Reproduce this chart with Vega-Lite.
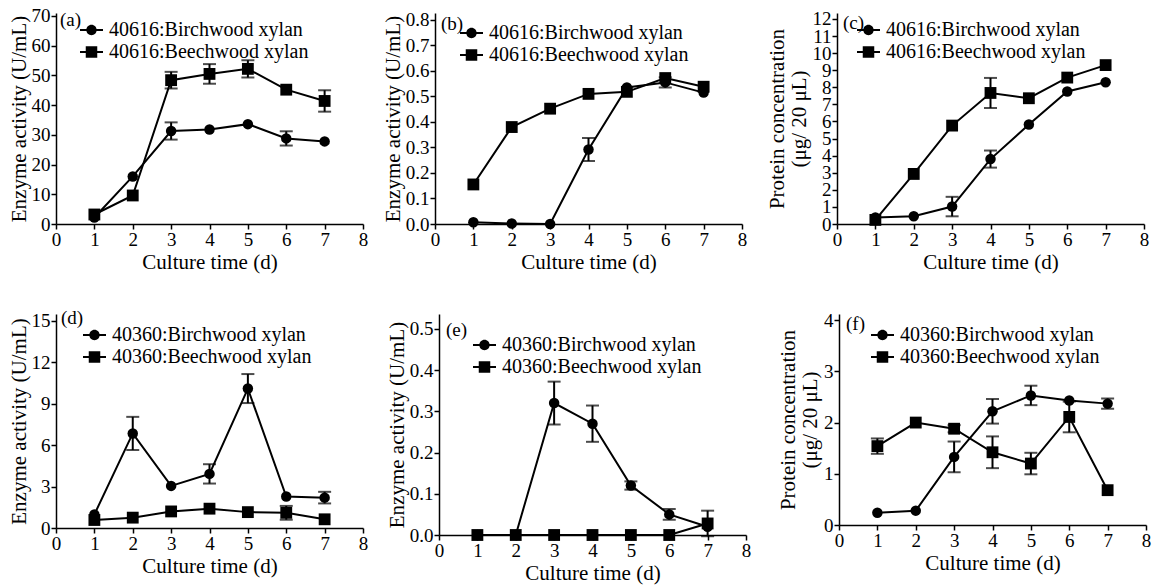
{
 "$schema": "https://vega.github.io/schema/vega-lite/v6.json",
 "padding": {"left": 8, "top": 6, "right": 5, "bottom": 5},
 "background": "white",
 "datasets": {"main": [
  {"panel":"a","kind":"Birchwood","series":"40616:Birchwood xylan","day":1,"value":2.2,"err":0},
  {"panel":"a","kind":"Birchwood","series":"40616:Birchwood xylan","day":2,"value":16.0,"err":0},
  {"panel":"a","kind":"Birchwood","series":"40616:Birchwood xylan","day":3,"value":31.3,"err":2.9},
  {"panel":"a","kind":"Birchwood","series":"40616:Birchwood xylan","day":4,"value":31.8,"err":0},
  {"panel":"a","kind":"Birchwood","series":"40616:Birchwood xylan","day":5,"value":33.6,"err":0},
  {"panel":"a","kind":"Birchwood","series":"40616:Birchwood xylan","day":6,"value":28.8,"err":2.4},
  {"panel":"a","kind":"Birchwood","series":"40616:Birchwood xylan","day":7,"value":27.8,"err":0},
  {"panel":"a","kind":"Beechwood","series":"40616:Beechwood xylan","day":1,"value":3.2,"err":0},
  {"panel":"a","kind":"Beechwood","series":"40616:Beechwood xylan","day":2,"value":9.6,"err":0},
  {"panel":"a","kind":"Beechwood","series":"40616:Beechwood xylan","day":3,"value":48.4,"err":2.8},
  {"panel":"a","kind":"Beechwood","series":"40616:Beechwood xylan","day":4,"value":50.5,"err":3.3},
  {"panel":"a","kind":"Beechwood","series":"40616:Beechwood xylan","day":5,"value":52.2,"err":2.9},
  {"panel":"a","kind":"Beechwood","series":"40616:Beechwood xylan","day":6,"value":45.2,"err":0},
  {"panel":"a","kind":"Beechwood","series":"40616:Beechwood xylan","day":7,"value":41.4,"err":3.6},
  {"panel":"b","kind":"Birchwood","series":"40616:Birchwood xylan","day":1,"value":0.007,"err":0},
  {"panel":"b","kind":"Birchwood","series":"40616:Birchwood xylan","day":2,"value":0.002,"err":0},
  {"panel":"b","kind":"Birchwood","series":"40616:Birchwood xylan","day":3,"value":0.0,"err":0},
  {"panel":"b","kind":"Birchwood","series":"40616:Birchwood xylan","day":4,"value":0.292,"err":0.045},
  {"panel":"b","kind":"Birchwood","series":"40616:Birchwood xylan","day":5,"value":0.535,"err":0},
  {"panel":"b","kind":"Birchwood","series":"40616:Birchwood xylan","day":6,"value":0.555,"err":0.02},
  {"panel":"b","kind":"Birchwood","series":"40616:Birchwood xylan","day":7,"value":0.515,"err":0},
  {"panel":"b","kind":"Beechwood","series":"40616:Beechwood xylan","day":1,"value":0.155,"err":0},
  {"panel":"b","kind":"Beechwood","series":"40616:Beechwood xylan","day":2,"value":0.38,"err":0},
  {"panel":"b","kind":"Beechwood","series":"40616:Beechwood xylan","day":3,"value":0.452,"err":0},
  {"panel":"b","kind":"Beechwood","series":"40616:Beechwood xylan","day":4,"value":0.51,"err":0},
  {"panel":"b","kind":"Beechwood","series":"40616:Beechwood xylan","day":5,"value":0.518,"err":0},
  {"panel":"b","kind":"Beechwood","series":"40616:Beechwood xylan","day":6,"value":0.572,"err":0},
  {"panel":"b","kind":"Beechwood","series":"40616:Beechwood xylan","day":7,"value":0.538,"err":0},
  {"panel":"c","kind":"Birchwood","series":"40616:Birchwood xylan","day":1,"value":0.38,"err":0},
  {"panel":"c","kind":"Birchwood","series":"40616:Birchwood xylan","day":2,"value":0.45,"err":0},
  {"panel":"c","kind":"Birchwood","series":"40616:Birchwood xylan","day":3,"value":1.02,"err":0.57},
  {"panel":"c","kind":"Birchwood","series":"40616:Birchwood xylan","day":4,"value":3.8,"err":0.5},
  {"panel":"c","kind":"Birchwood","series":"40616:Birchwood xylan","day":5,"value":5.82,"err":0},
  {"panel":"c","kind":"Birchwood","series":"40616:Birchwood xylan","day":6,"value":7.76,"err":0},
  {"panel":"c","kind":"Birchwood","series":"40616:Birchwood xylan","day":7,"value":8.3,"err":0},
  {"panel":"c","kind":"Beechwood","series":"40616:Beechwood xylan","day":1,"value":0.24,"err":0},
  {"panel":"c","kind":"Beechwood","series":"40616:Beechwood xylan","day":2,"value":2.93,"err":0},
  {"panel":"c","kind":"Beechwood","series":"40616:Beechwood xylan","day":3,"value":5.76,"err":0},
  {"panel":"c","kind":"Beechwood","series":"40616:Beechwood xylan","day":4,"value":7.67,"err":0.88},
  {"panel":"c","kind":"Beechwood","series":"40616:Beechwood xylan","day":5,"value":7.36,"err":0},
  {"panel":"c","kind":"Beechwood","series":"40616:Beechwood xylan","day":6,"value":8.57,"err":0},
  {"panel":"c","kind":"Beechwood","series":"40616:Beechwood xylan","day":7,"value":9.3,"err":0},
  {"panel":"d","kind":"Birchwood","series":"40360:Birchwood xylan","day":1,"value":0.98,"err":0},
  {"panel":"d","kind":"Birchwood","series":"40360:Birchwood xylan","day":2,"value":6.85,"err":1.2},
  {"panel":"d","kind":"Birchwood","series":"40360:Birchwood xylan","day":3,"value":3.05,"err":0},
  {"panel":"d","kind":"Birchwood","series":"40360:Birchwood xylan","day":4,"value":3.92,"err":0.7},
  {"panel":"d","kind":"Birchwood","series":"40360:Birchwood xylan","day":5,"value":10.1,"err":1.05},
  {"panel":"d","kind":"Birchwood","series":"40360:Birchwood xylan","day":6,"value":2.28,"err":0},
  {"panel":"d","kind":"Birchwood","series":"40360:Birchwood xylan","day":7,"value":2.2,"err":0.42},
  {"panel":"d","kind":"Beechwood","series":"40360:Beechwood xylan","day":1,"value":0.58,"err":0},
  {"panel":"d","kind":"Beechwood","series":"40360:Beechwood xylan","day":2,"value":0.75,"err":0},
  {"panel":"d","kind":"Beechwood","series":"40360:Beechwood xylan","day":3,"value":1.2,"err":0},
  {"panel":"d","kind":"Beechwood","series":"40360:Beechwood xylan","day":4,"value":1.4,"err":0},
  {"panel":"d","kind":"Beechwood","series":"40360:Beechwood xylan","day":5,"value":1.15,"err":0},
  {"panel":"d","kind":"Beechwood","series":"40360:Beechwood xylan","day":6,"value":1.1,"err":0.5},
  {"panel":"d","kind":"Beechwood","series":"40360:Beechwood xylan","day":7,"value":0.63,"err":0},
  {"panel":"e","kind":"Birchwood","series":"40360:Birchwood xylan","day":1,"value":0,"err":0},
  {"panel":"e","kind":"Birchwood","series":"40360:Birchwood xylan","day":2,"value":0,"err":0},
  {"panel":"e","kind":"Birchwood","series":"40360:Birchwood xylan","day":3,"value":0.32,"err":0.052},
  {"panel":"e","kind":"Birchwood","series":"40360:Birchwood xylan","day":4,"value":0.27,"err":0.044},
  {"panel":"e","kind":"Birchwood","series":"40360:Birchwood xylan","day":5,"value":0.12,"err":0.01},
  {"panel":"e","kind":"Birchwood","series":"40360:Birchwood xylan","day":6,"value":0.05,"err":0.013},
  {"panel":"e","kind":"Birchwood","series":"40360:Birchwood xylan","day":7,"value":0.02,"err":0},
  {"panel":"e","kind":"Beechwood","series":"40360:Beechwood xylan","day":1,"value":0,"err":0},
  {"panel":"e","kind":"Beechwood","series":"40360:Beechwood xylan","day":2,"value":0,"err":0},
  {"panel":"e","kind":"Beechwood","series":"40360:Beechwood xylan","day":3,"value":0,"err":0},
  {"panel":"e","kind":"Beechwood","series":"40360:Beechwood xylan","day":4,"value":0,"err":0},
  {"panel":"e","kind":"Beechwood","series":"40360:Beechwood xylan","day":5,"value":0,"err":0},
  {"panel":"e","kind":"Beechwood","series":"40360:Beechwood xylan","day":6,"value":0,"err":0},
  {"panel":"e","kind":"Beechwood","series":"40360:Beechwood xylan","day":7,"value":0.028,"err":0.031},
  {"panel":"f","kind":"Birchwood","series":"40360:Birchwood xylan","day":1,"value":0.24,"err":0},
  {"panel":"f","kind":"Birchwood","series":"40360:Birchwood xylan","day":2,"value":0.28,"err":0},
  {"panel":"f","kind":"Birchwood","series":"40360:Birchwood xylan","day":3,"value":1.33,"err":0.3},
  {"panel":"f","kind":"Birchwood","series":"40360:Birchwood xylan","day":4,"value":2.22,"err":0.24},
  {"panel":"f","kind":"Birchwood","series":"40360:Birchwood xylan","day":5,"value":2.53,"err":0.19},
  {"panel":"f","kind":"Birchwood","series":"40360:Birchwood xylan","day":6,"value":2.43,"err":0},
  {"panel":"f","kind":"Birchwood","series":"40360:Birchwood xylan","day":7,"value":2.37,"err":0.1},
  {"panel":"f","kind":"Beechwood","series":"40360:Beechwood xylan","day":1,"value":1.54,"err":0.15},
  {"panel":"f","kind":"Beechwood","series":"40360:Beechwood xylan","day":2,"value":2.0,"err":0},
  {"panel":"f","kind":"Beechwood","series":"40360:Beechwood xylan","day":3,"value":1.88,"err":0.07},
  {"panel":"f","kind":"Beechwood","series":"40360:Beechwood xylan","day":4,"value":1.42,"err":0.31},
  {"panel":"f","kind":"Beechwood","series":"40360:Beechwood xylan","day":5,"value":1.2,"err":0.21},
  {"panel":"f","kind":"Beechwood","series":"40360:Beechwood xylan","day":6,"value":2.11,"err":0.3},
  {"panel":"f","kind":"Beechwood","series":"40360:Beechwood xylan","day":7,"value":0.68,"err":0}
 ]},
 "spacing": 36,
 "bounds": "full",
 "resolve": {"scale": {"shape": "independent"}, "legend": {"shape": "independent"}},
 "vconcat": [
  {
   "spacing": 72, "bounds": "flush",
   "resolve": {"scale": {"shape": "independent"}, "legend": {"shape": "independent"}},
   "hconcat": [
    {
     "width": 307, "height": 211,
     "title": {"text": "(a)", "offset": -23, "dx": 4},
     "data": {"name": "main"},
     "transform": [{"filter": "datum.panel == 'a'"}],
     "encoding": {
      "x": {"field": "day", "type": "quantitative", "scale": {"domain": [0, 8], "nice": false, "zero": false}, "axis": {"values": [0,1,2,3,4,5,6,7,8], "format": "d", "title": "Culture time (d)"}},
      "y": {"field": "value", "type": "quantitative", "scale": {"domain": [0, 71], "nice": false}, "axis": {"values": [0,10,20,30,40,50,60,70], "format": "d", "title": "Enzyme activity (U/mL)"}}
     },
     "layer": [
      {"mark": {"type": "line", "color": "black", "strokeWidth": 2}, "encoding": {"detail": {"field": "series"}}},
      {"transform": [{"filter": "datum.err > 0"}], "mark": {"type": "errorbar", "color": "black", "thickness": 2, "ticks": {"size": 13, "thickness": 2, "color": "black"}}, "encoding": {"yError": {"field": "err"}}},
      {"transform": [{"filter": "datum.kind == 'Birchwood'"}], "mark": {"type": "point", "shape": "circle", "filled": true, "color": "black", "size": 110, "opacity": 1}},
      {"transform": [{"filter": "datum.kind == 'Beechwood'"}], "mark": {"type": "point", "shape": "square", "filled": true, "color": "black", "size": 140, "opacity": 1}},
      {"mark": {"type": "point", "filled": true, "color": "black", "opacity": 0}, "encoding": {"shape": {"field": "series", "type": "nominal", "scale": {"domain": ["40616:Birchwood xylan", "40616:Beechwood xylan"], "range": ["M-1,-0.09H1V0.09H-1ZM0.45,0A0.45,0.45,0,1,1,-0.45,0A0.45,0.45,0,1,1,0.45,0Z", "M-1,-0.09H1V0.09H-1ZM-0.5,-0.5H0.5V0.5H-0.5Z"]}, "legend": {"legendX": 24, "legendY": 5.5}}}}
     ]
    },
    {
     "spacing": 95, "bounds": "flush",
     "resolve": {"scale": {"shape": "independent"}, "legend": {"shape": "independent"}},
     "hconcat": [
      {
       "width": 307, "height": 211,
       "title": {"text": "(b)", "offset": -23, "dx": 6},
       "data": {"name": "main"},
       "transform": [{"filter": "datum.panel == 'b'"}],
       "encoding": {
        "x": {"field": "day", "type": "quantitative", "scale": {"domain": [0, 8], "nice": false, "zero": false}, "axis": {"values": [0,1,2,3,4,5,6,7,8], "format": "d", "title": "Culture time (d)"}},
        "y": {"field": "value", "type": "quantitative", "scale": {"domain": [0, 0.827], "nice": false}, "axis": {"values": [0,0.1,0.2,0.3,0.4,0.5,0.6,0.7,0.8], "format": ".1f", "title": "Enzyme activity (U/mL)"}}
       },
       "layer": [
        {"mark": {"type": "line", "color": "black", "strokeWidth": 2}, "encoding": {"detail": {"field": "series"}}},
        {"transform": [{"filter": "datum.err > 0"}], "mark": {"type": "errorbar", "color": "black", "thickness": 2, "ticks": {"size": 13, "thickness": 2, "color": "black"}}, "encoding": {"yError": {"field": "err"}}},
        {"transform": [{"filter": "datum.kind == 'Birchwood'"}], "mark": {"type": "point", "shape": "circle", "filled": true, "color": "black", "size": 110, "opacity": 1}},
        {"transform": [{"filter": "datum.kind == 'Beechwood'"}], "mark": {"type": "point", "shape": "square", "filled": true, "color": "black", "size": 140, "opacity": 1}},
        {"mark": {"type": "point", "filled": true, "color": "black", "opacity": 0}, "encoding": {"shape": {"field": "series", "type": "nominal", "scale": {"domain": ["40616:Birchwood xylan", "40616:Beechwood xylan"], "range": ["M-1,-0.09H1V0.09H-1ZM0.45,0A0.45,0.45,0,1,1,-0.45,0A0.45,0.45,0,1,1,0.45,0Z", "M-1,-0.09H1V0.09H-1ZM-0.5,-0.5H0.5V0.5H-0.5Z"]}, "legend": {"legendX": 25, "legendY": 8.5}}}}
       ]
      },
      {
       "width": 307, "height": 211,
       "title": {"text": "(c)", "offset": -23, "dx": 6},
       "data": {"name": "main"},
       "transform": [{"filter": "datum.panel == 'c'"}],
       "encoding": {
        "x": {"field": "day", "type": "quantitative", "scale": {"domain": [0, 8], "nice": false, "zero": false}, "axis": {"values": [0,1,2,3,4,5,6,7,8], "format": "d", "title": "Culture time (d)"}},
        "y": {"field": "value", "type": "quantitative", "scale": {"domain": [0, 12.35], "nice": false}, "axis": {"values": [0,1,2,3,4,5,6,7,8,9,10,11,12], "format": "d", "title": ["Protein concentration", "(μg/ 20 μL)"], "titlePadding": 3}}
       },
       "layer": [
        {"mark": {"type": "line", "color": "black", "strokeWidth": 2}, "encoding": {"detail": {"field": "series"}}},
        {"transform": [{"filter": "datum.err > 0"}], "mark": {"type": "errorbar", "color": "black", "thickness": 2, "ticks": {"size": 13, "thickness": 2, "color": "black"}}, "encoding": {"yError": {"field": "err"}}},
        {"transform": [{"filter": "datum.kind == 'Birchwood'"}], "mark": {"type": "point", "shape": "circle", "filled": true, "color": "black", "size": 110, "opacity": 1}},
        {"transform": [{"filter": "datum.kind == 'Beechwood'"}], "mark": {"type": "point", "shape": "square", "filled": true, "color": "black", "size": 140, "opacity": 1}},
        {"mark": {"type": "point", "filled": true, "color": "black", "opacity": 0}, "encoding": {"shape": {"field": "series", "type": "nominal", "scale": {"domain": ["40616:Birchwood xylan", "40616:Beechwood xylan"], "range": ["M-1,-0.09H1V0.09H-1ZM0.45,0A0.45,0.45,0,1,1,-0.45,0A0.45,0.45,0,1,1,0.45,0Z", "M-1,-0.09H1V0.09H-1ZM-0.5,-0.5H0.5V0.5H-0.5Z"]}, "legend": {"legendX": 20, "legendY": 5.5}}}}
       ]
      }
     ]
    }
   ]
  },
  {
   "spacing": 76, "bounds": "flush",
   "resolve": {"scale": {"shape": "independent"}, "legend": {"shape": "independent"}},
   "hconcat": [
    {
     "width": 307, "height": 214,
     "title": {"text": "(d)", "offset": -16, "dx": 5},
     "data": {"name": "main"},
     "transform": [{"filter": "datum.panel == 'd'"}],
     "encoding": {
      "x": {"field": "day", "type": "quantitative", "scale": {"domain": [0, 8], "nice": false, "zero": false}, "axis": {"values": [0,1,2,3,4,5,6,7,8], "format": "d", "title": "Culture time (d)"}},
      "y": {"field": "value", "type": "quantitative", "scale": {"domain": [0, 15.5], "nice": false}, "axis": {"values": [0,3,6,9,12,15], "format": "d", "title": "Enzyme activity (U/mL)"}}
     },
     "layer": [
      {"mark": {"type": "line", "color": "black", "strokeWidth": 2}, "encoding": {"detail": {"field": "series"}}},
      {"transform": [{"filter": "datum.err > 0"}], "mark": {"type": "errorbar", "color": "black", "thickness": 2, "ticks": {"size": 13, "thickness": 2, "color": "black"}}, "encoding": {"yError": {"field": "err"}}},
      {"transform": [{"filter": "datum.kind == 'Birchwood'"}], "mark": {"type": "point", "shape": "circle", "filled": true, "color": "black", "size": 110, "opacity": 1}},
      {"transform": [{"filter": "datum.kind == 'Beechwood'"}], "mark": {"type": "point", "shape": "square", "filled": true, "color": "black", "size": 140, "opacity": 1}},
      {"mark": {"type": "point", "filled": true, "color": "black", "opacity": 0}, "encoding": {"shape": {"field": "series", "type": "nominal", "scale": {"domain": ["40360:Birchwood xylan", "40360:Beechwood xylan"], "range": ["M-1,-0.09H1V0.09H-1ZM0.45,0A0.45,0.45,0,1,1,-0.45,0A0.45,0.45,0,1,1,0.45,0Z", "M-1,-0.09H1V0.09H-1ZM-0.5,-0.5H0.5V0.5H-0.5Z"]}, "legend": {"legendX": 27, "legendY": 9.5}}}}
     ]
    },
    {
     "spacing": 93, "bounds": "flush",
     "resolve": {"scale": {"shape": "independent"}, "legend": {"shape": "independent"}},
     "hconcat": [
      {
       "width": 307, "height": 221,
       "title": {"text": "(e)", "offset": -26, "dx": 7},
       "data": {"name": "main"},
       "transform": [{"filter": "datum.panel == 'e'"}],
       "encoding": {
        "x": {"field": "day", "type": "quantitative", "scale": {"domain": [0, 8], "nice": false, "zero": false}, "axis": {"values": [0,1,2,3,4,5,6,7,8], "format": "d", "title": "Culture time (d)"}},
        "y": {"field": "value", "type": "quantitative", "scale": {"domain": [0, 0.536], "nice": false}, "axis": {"values": [0,0.1,0.2,0.3,0.4,0.5], "format": ".1f", "title": "Enzyme activity (U/mL)"}}
       },
       "layer": [
        {"mark": {"type": "line", "color": "black", "strokeWidth": 2}, "encoding": {"detail": {"field": "series"}}},
        {"transform": [{"filter": "datum.err > 0"}], "mark": {"type": "errorbar", "color": "black", "thickness": 2, "ticks": {"size": 13, "thickness": 2, "color": "black"}}, "encoding": {"yError": {"field": "err"}}},
        {"transform": [{"filter": "datum.kind == 'Birchwood'"}], "mark": {"type": "point", "shape": "circle", "filled": true, "color": "black", "size": 110, "opacity": 1}},
        {"transform": [{"filter": "datum.kind == 'Beechwood'"}], "mark": {"type": "point", "shape": "square", "filled": true, "color": "black", "size": 140, "opacity": 1}},
        {"mark": {"type": "point", "filled": true, "color": "black", "opacity": 0}, "encoding": {"shape": {"field": "series", "type": "nominal", "scale": {"domain": ["40360:Birchwood xylan", "40360:Beechwood xylan"], "range": ["M-1,-0.09H1V0.09H-1ZM0.45,0A0.45,0.45,0,1,1,-0.45,0A0.45,0.45,0,1,1,0.45,0Z", "M-1,-0.09H1V0.09H-1ZM-0.5,-0.5H0.5V0.5H-0.5Z"]}, "legend": {"legendX": 34, "legendY": 19.5}}}}
       ]
      },
      {
       "width": 307, "height": 211,
       "title": {"text": "(f)", "offset": -23, "dx": 7},
       "data": {"name": "main"},
       "transform": [{"filter": "datum.panel == 'f'"}],
       "encoding": {
        "x": {"field": "day", "type": "quantitative", "scale": {"domain": [0, 8], "nice": false, "zero": false}, "axis": {"values": [0,1,2,3,4,5,6,7,8], "format": "d", "title": "Culture time (d)"}},
        "y": {"field": "value", "type": "quantitative", "scale": {"domain": [0, 4.12], "nice": false}, "axis": {"values": [0,1,2,3,4], "format": "d", "title": ["Protein concentration", "(μg/ 20 μL)"], "titlePadding": 3}}
       },
       "layer": [
        {"mark": {"type": "line", "color": "black", "strokeWidth": 2}, "encoding": {"detail": {"field": "series"}}},
        {"transform": [{"filter": "datum.err > 0"}], "mark": {"type": "errorbar", "color": "black", "thickness": 2, "ticks": {"size": 13, "thickness": 2, "color": "black"}}, "encoding": {"yError": {"field": "err"}}},
        {"transform": [{"filter": "datum.kind == 'Birchwood'"}], "mark": {"type": "point", "shape": "circle", "filled": true, "color": "black", "size": 110, "opacity": 1}},
        {"transform": [{"filter": "datum.kind == 'Beechwood'"}], "mark": {"type": "point", "shape": "square", "filled": true, "color": "black", "size": 140, "opacity": 1}},
        {"mark": {"type": "point", "filled": true, "color": "black", "opacity": 0}, "encoding": {"shape": {"field": "series", "type": "nominal", "scale": {"domain": ["40360:Birchwood xylan", "40360:Beechwood xylan"], "range": ["M-1,-0.09H1V0.09H-1ZM0.45,0A0.45,0.45,0,1,1,-0.45,0A0.45,0.45,0,1,1,0.45,0Z", "M-1,-0.09H1V0.09H-1ZM-0.5,-0.5H0.5V0.5H-0.5Z"]}, "legend": {"legendX": 32, "legendY": 9.5}}}}
       ]
      }
     ]
    }
   ]
  }
 ],
 "config": {
  "font": "Liberation Serif",
  "view": {"stroke": null},
  "axis": {"domainColor": "black", "domainWidth": 1.5, "tickColor": "black", "tickWidth": 1.5, "tickSize": 5, "labelColor": "black", "labelFont": "Liberation Serif", "labelFontSize": 19, "titleFont": "Liberation Serif", "titleFontSize": 21, "titleFontWeight": "normal", "titleColor": "black", "grid": false, "labelPadding": 1, "titlePadding": 2, "labelFlush": false, "labelOverlap": false, "titleLineHeight": 22},
  "legend": {"orient": "none", "direction": "vertical", "title": null, "symbolSize": 529, "symbolStrokeWidth": 0, "symbolFillColor": "black", "symbolOpacity": 1, "labelFont": "Liberation Serif", "labelFontSize": 20, "labelColor": "black", "labelOffset": 6, "rowPadding": -1, "padding": 0, "labelLimit": 400},
  "title": {"font": "Liberation Serif", "fontSize": 19, "fontWeight": "normal", "color": "black", "anchor": "start", "frame": "group", "baseline": "alphabetic", "orient": "top"}
 }
}
